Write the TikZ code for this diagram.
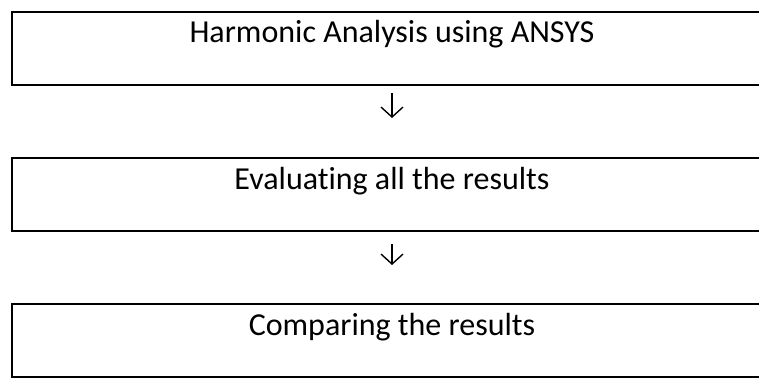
\documentclass[tikz,border=0pt]{standalone}
\usepackage{fontspec}
\setmainfont{Carlito}[Ligatures={NoCommon}]
\usetikzlibrary{arrows.meta, positioning}
\tikzset{
  stepbox/.style={
    draw,
    rectangle,
    overlay,
    line width=2.5pt,
    outer sep=0pt,
    inner sep=0pt,
    minimum width=800pt,
    text height=31pt,
    text depth=42pt,
    font=\fontsize{32pt}{38pt}\selectfont,
    execute at begin node=\hspace*{-40pt},
  },
  flowarrow/.style={
    -{Straight Barb[length=10pt,width=22pt]},
    line width=1.4pt
  }
}
\begin{document}
\begin{tikzpicture}[x=1pt, y=-1pt, node distance=73pt]
  \useasboundingbox (0,0) rectangle (759,377);
  \clip (0,0) rectangle (759,377);

  \node[stepbox, anchor=north west] (harmonic) at (12,12) {Harmonic Analysis using ANSYS};
  \node[stepbox, below=of harmonic] (evaluate) {Evaluating all the results};
  \node[stepbox, below=of evaluate] (compare) {Comparing the results};

  \draw[flowarrow, shorten <=8pt, shorten >=40pt] ([xshift=-20pt]harmonic.south) -- ([xshift=-20pt]evaluate.north);
  \draw[flowarrow, shorten <=13pt, shorten >=39pt] ([xshift=-20pt]evaluate.south) -- ([xshift=-20pt]compare.north);
\end{tikzpicture}
\end{document}
